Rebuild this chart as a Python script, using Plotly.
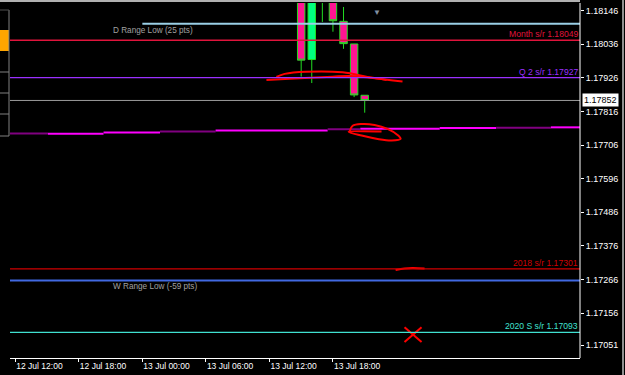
import plotly.graph_objects as go
import pandas as pd

BASE = pd.Timestamp("2020-07-12 12:00")

# ---- H1 candles (13 Jul) ----
candle_time = ["2020-07-13 15:00", "2020-07-13 16:00", "2020-07-13 17:00", "2020-07-13 18:00",
               "2020-07-13 19:00", "2020-07-13 20:00", "2020-07-13 21:00"]
candle_open = [1.18260, 1.17986, 1.18230, 1.18195, 1.18111, 1.18037, 1.17869]
candle_high = [1.18290, 1.18260, 1.18245, 1.18200, 1.18158, 1.18037, 1.17869]
candle_low = [1.17930, 1.17909, 1.18109, 1.18077, 1.18021, 1.17863, 1.17812]
candle_close = [1.17984, 1.18240, 1.18200, 1.18113, 1.18038, 1.17870, 1.17852]

# ---- s/r levels with right-side labels ----
level_names = ["Month s/r 1.18049", "Q 2 s/r 1.17927", "2018 s/r 1.17301", "2020 S s/r 1.17093"]
level_values = [1.18049, 1.17927, 1.17301, 1.17093]
level_colors = ["#E0143C", "#9B30FF", "#D00000", "#40E0D0"]

# ---- range lines ----
range_names = ["D Range Low (25 pts)", "W Range Low (-59 pts)"]
range_values = [1.18103, 1.17263]
range_start = ["2020-07-13 00:00", "2020-07-12 11:30"]
range_label_time = ["2020-07-12 21:00", "2020-07-12 21:00"]
range_colors = ["#9ACFE6", "#4169E1"]

bid_price = 1.17852

# ---- stepped magenta indicator ----
seg_times = ["2020-07-12 11:30", "2020-07-12 15:05", "2020-07-12 20:20", "2020-07-13 01:40",
             "2020-07-13 06:55", "2020-07-13 17:30", "2020-07-13 20:35", "2020-07-14 04:05",
             "2020-07-14 09:25", "2020-07-14 14:35", "2020-07-14 17:20"]
seg_values = [1.17744, 1.17743, 1.17747, 1.17750, 1.17754, 1.17758, 1.17759, 1.17762, 1.17763, 1.17764]
seg_dark = [True, False, False, True, False, True, False, False, True, False]

# ---- hand-drawn red marks (hours after 12 Jul 12:00, price) ----
strokeA_h = [23.72, 25.92, 29.97, 31.58, 33.46, 35.07]
strokeA_p = [1.17919, 1.17923, 1.17930, 1.17932, 1.17927, 1.17919]
strokeB_h = [24.66, 25.44, 27.49, 30.92, 33.75, 36.57]
strokeB_p = [1.17929, 1.17939, 1.17946, 1.17944, 1.17926, 1.17914]
ellipse_h = [31.58, 31.86, 32.71, 33.93, 35.16, 36.10, 36.39, 35.54, 34.22, 32.71, 31.48, 34.59]
ellipse_p = [1.17751, 1.17769, 1.17775, 1.17772, 1.17759, 1.17739, 1.17726, 1.17721, 1.17726, 1.17737, 1.17749, 1.17750]
strokeD_h = [35.92, 36.76, 37.52, 38.65]
strokeD_p = [1.17297, 1.17302, 1.17304, 1.17302]
cross1_h = [36.76, 38.37]
cross1_p = [1.17110, 1.17061]
cross2_h = [36.76, 38.37]
cross2_p = [1.17061, 1.17110]

# ---- axes ----
x_ticks = ["2020-07-12 12:00", "2020-07-12 18:00", "2020-07-13 00:00",
           "2020-07-13 06:00", "2020-07-13 12:00", "2020-07-13 18:00"]
x_ticktext = ["12 Jul 12:00", "12 Jul 18:00", "13 Jul 00:00", "13 Jul 06:00", "13 Jul 12:00", "13 Jul 18:00"]
y_ticks = [1.18146, 1.18036, 1.17926, 1.17816, 1.17706, 1.17596, 1.17486, 1.17376, 1.17266, 1.17156, 1.17051]
x_range = ["2020-07-12 11:30", "2020-07-14 17:20"]
y_range = [1.17009, 1.18171]

FONT = "Liberation Sans"

def hrs(h):
    return [BASE + pd.Timedelta(hours=v) for v in h]

fig = go.Figure()

# magenta stepped segments
for i, v in enumerate(seg_values):
    fig.add_trace(go.Scatter(
        x=[seg_times[i], seg_times[i + 1]], y=[v, v], mode="lines",
        line=dict(color="#800080" if seg_dark[i] else "#FF00FF", width=2),
        hoverinfo="skip", showlegend=False))

# horizontal levels
for v, c in zip(level_values, level_colors):
    fig.add_hline(y=v, line=dict(color=c, width=1.3))

fig.add_hline(y=bid_price, line=dict(color="#9a9a9a", width=1))

for name, v, s, lt, c in zip(range_names, range_values, range_start, range_label_time, range_colors):
    fig.add_trace(go.Scatter(x=[s, x_range[1]], y=[v, v], mode="lines",
                             line=dict(color=c, width=2), hoverinfo="skip", showlegend=False))
    fig.add_annotation(x=lt, y=v, text=name, showarrow=False, xanchor="left", yanchor="top",
                       yshift=0, font=dict(family=FONT, size=8.2, color="#a0a0a0"))

for name, v, c in zip(level_names, level_values, level_colors):
    fig.add_annotation(x=1, xref="paper", y=v, text=name, showarrow=False, xanchor="right",
                       yanchor="bottom", yshift=-1, font=dict(family=FONT, size=8.6, color=c))

# candles
fig.add_trace(go.Candlestick(
    x=candle_time, open=candle_open, high=candle_high, low=candle_low, close=candle_close,
    increasing=dict(line=dict(color="#22DD22", width=1), fillcolor="#00FF7F"),
    decreasing=dict(line=dict(color="#22DD22", width=1), fillcolor="#FF1493"),
    whiskerwidth=0, hoverinfo="skip", showlegend=False))

# red hand drawings
for hh, pp in [(strokeA_h, strokeA_p), (strokeB_h, strokeB_p), (ellipse_h, ellipse_p),
               (strokeD_h, strokeD_p), (cross1_h, cross1_p), (cross2_h, cross2_p)]:
    fig.add_trace(go.Scatter(x=hrs(hh), y=pp, mode="lines",
                             line=dict(color="#FF0000", width=2, shape="spline"),
                             hoverinfo="skip", showlegend=False))

# current price label
fig.add_annotation(x=1, xref="paper", y=bid_price, text=f"{bid_price:.5f}", showarrow=False,
                   xanchor="left", xshift=2, bgcolor="#FFFFFF", borderpad=1,
                   font=dict(family=FONT, size=9, color="#000000"))

# chart shift marker
fig.add_annotation(x=(376.7 - 10) / 570, xref="paper", y=1, yref="paper", text="▼", showarrow=False,
                   yanchor="top", yshift=-1, font=dict(size=8, color="#8090a0"))

# frame & side decoration (paper coords)
px = lambda p: (p - 10) / 570
py = lambda p: (358 - p) / 355
deco = [
    dict(type="line", x0=px(0), x1=1, y0=py(1), y1=py(1), line=dict(color="#b0b0b0", width=2)),
    dict(type="line", x0=1, x1=1, y0=0, y1=py(3), line=dict(color="#FFFFFF", width=1)),
    dict(type="line", x0=px(623), x1=px(623), y0=py(375), y1=py(0), line=dict(color="#909090", width=2)),
    dict(type="rect", x0=px(0), x1=px(9), y0=py(51), y1=py(30), fillcolor="#FFA500", line=dict(width=0)),
    dict(type="line", x0=px(9), x1=px(9), y0=py(136), y1=py(10), line=dict(color="#808080", width=1)),
    dict(type="line", x0=px(0), x1=px(9), y0=py(10), y1=py(10), line=dict(color="#505050", width=1)),
]
for yy in [72, 93, 114, 136]:
    deco.append(dict(type="line", x0=px(0), x1=px(9), y0=py(yy), y1=py(yy),
                     line=dict(color="#808080", width=1)))
for s in deco:
    fig.add_shape(xref="paper", yref="paper", **s)

fig.update_layout(
    width=625, height=375,
    margin=dict(l=10, r=45, t=3, b=17),
    paper_bgcolor="#000000", plot_bgcolor="#000000",
    showlegend=False, boxgap=0.22, boxgroupgap=0.1,
    xaxis=dict(type="date", range=x_range, rangeslider=dict(visible=False),
               tickvals=x_ticks, ticktext=x_ticktext, ticks="outside", ticklen=3,
               tickcolor="#FFFFFF", showgrid=False, zeroline=False,
               showline=True, linecolor="#FFFFFF", linewidth=1,
               ticklabelposition="outside right",
               tickfont=dict(family=FONT, size=8.5, color="#FFFFFF")),
    yaxis=dict(side="right", range=y_range, tickvals=y_ticks,
               ticktext=[f"{v:.5f}" for v in y_ticks], ticks="outside", ticklen=3,
               tickcolor="#FFFFFF", showgrid=False, zeroline=False,
               showline=False,
               tickfont=dict(family=FONT, size=9, color="#FFFFFF")),
)

fig.write_html("out.html")
